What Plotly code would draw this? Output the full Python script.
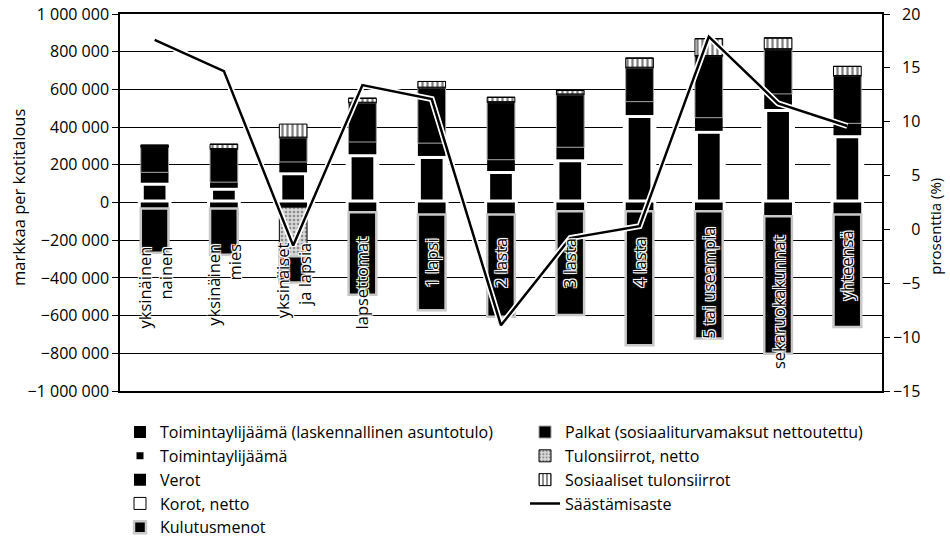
import plotly.graph_objects as go

# ---------------- data (thousand markkaa per household) ----------------
categories = ["yksinäinen<br>nainen", "yksinäinen<br>mies", "yksinäiset<br>ja lapsia",
              "lapsettomat", "1 lapsi", "2 lasta", "3 lasta", "4 lasta",
              "5 tai useampia", "sekaruokakunnat", "yhteensä"]

toimintaylijaama = [105, 78, 160, 256, 247, 167, 229, 464, 380, 496, 357]
asuntotulo = [55, 30, 55, 65, 68, 60, 64, 71, 70, 80, 63]
palkat = [132, 173, 127, 206, 292, 303, 278, 178, 325, 235, 249]
korot = [5, 5, 5, 5, 5, 5, 5, 5, 5, 5, 5]
sosiaaliset = [7, 23, 69, 21, 30, 23, 18, 48, 89, 57, 48]
verot = [-32, -32, -25, -52, -64, -64, -46, -46, -46, -73, -64]
tulonsiirrot = [0, 0, -260, 0, 0, 0, 0, 0, 0, 0, 0]
kulutusmenot = [-235, -245, -140, -438, -507, -542, -551, -711, -676, -729, -596]
saastamisaste = [17.6, 14.7, -1.5, 13.4, 12.1, -8.9, -0.8, 0.3, 17.9, 11.7, 9.6]

left_ticks = [-1000000, -800000, -600000, -400000, -200000, 0, 200000, 400000, 600000, 800000, 1000000]
left_ticktext = ["\u22121 000 000", "\u2212800 000", "\u2212600 000", "\u2212400 000", "\u2212200 000",
                 "0", "200 000", "400 000", "600 000", "800 000", "1 000 000"]
right_ticks = [-15, -10, -5, 0, 5, 10, 15, 20]
right_ticktext = ["\u221215", "\u221210", "\u2007\u22125", "\u2007\u20070", "\u2007\u20075",
                  "\u200710", "\u200715", "\u200720"]

# label placement (style): centre of each rotated category label, in markkaa
label_mid = [-453000, -437000, -411000, -427000, -320000, -320000, -320000, -320000, -427000, -528000, -331000]

FONT = "Open Sans"
idx = list(range(len(categories)))


def k(vals):
    return [v * 1000 for v in vals]


fig = go.Figure()
BW = 0.4

fig.add_trace(go.Bar(x=idx, y=k(toimintaylijaama), name="Toimintaylijäämä", width=BW, legend="legend",
                     marker=dict(color="black", line=dict(color="white", width=6)), legendrank=2))
fig.add_trace(go.Bar(x=idx, y=k(asuntotulo), name="Toimintaylijäämä (laskennallinen asuntotulo)", width=BW,
                     legend="legend", marker=dict(color="black", line=dict(width=0)), legendrank=1))
fig.add_trace(go.Bar(x=idx, y=k(palkat), name="Palkat (sosiaaliturvamaksut nettoutettu)", width=BW,
                     legend="legend2", marker=dict(color="black", line=dict(color="#a0a0a0", width=1)),
                     legendrank=1))
fig.add_trace(go.Bar(x=idx, y=k(korot), name="Korot, netto", width=BW, legend="legend",
                     marker=dict(color="white", line=dict(color="black", width=1)), legendrank=4))
fig.add_trace(go.Bar(x=idx, y=k(sosiaaliset), name="Sosiaaliset tulonsiirrot", width=BW, legend="legend2",
                     marker=dict(color="white", line=dict(color="black", width=1),
                                 pattern=dict(shape="|", fgcolor="black", bgcolor="white", size=5, solidity=0.45)),
                     legendrank=3))
fig.add_trace(go.Bar(x=idx, y=k(verot), name="Verot", width=BW, legend="legend",
                     marker=dict(color="black", line=dict(width=0)), legendrank=3))
fig.add_trace(go.Bar(x=idx, y=k(tulonsiirrot), name="Tulonsiirrot, netto", width=BW, legend="legend2",
                     marker=dict(color="#d0d0d0", line=dict(color="black", width=1),
                                 pattern=dict(shape=".", fgcolor="#404040", bgcolor="#d8d8d8", size=4,
                                              solidity=0.35)),
                     legendrank=2))
fig.add_trace(go.Bar(x=idx, y=k(kulutusmenot), name="Kulutusmenot", width=BW, legend="legend",
                     marker=dict(color="black", line=dict(color="#c8c8c8", width=2.5)), legendrank=5))

fig.add_trace(go.Scatter(x=idx, y=saastamisaste, yaxis="y2", mode="lines", showlegend=False,
                         line=dict(color="white", width=6), hoverinfo="skip"))
fig.add_trace(go.Scatter(x=idx, y=saastamisaste, yaxis="y2", mode="lines", name="Säästämisaste",
                         legend="legend2", line=dict(color="black", width=2.5), legendrank=4))

halo = "-1px -1px 0 #fff, 1px -1px 0 #fff, -1px 1px 0 #fff, 1px 1px 0 #fff, 0 0 3px #fff"
annotations = []
for i, (lab, mid) in enumerate(zip(categories, label_mid)):
    annotations.append(dict(x=i, y=mid, xref="x", yref="y", text=lab, textangle=-90,
                            xanchor="center", yanchor="middle", align="right", showarrow=False,
                            font=dict(family=FONT, size=16.5, color="black", shadow=halo)))
annotations.append(dict(x=-0.1325, y=0.512, xref="paper", yref="paper", text="markkaa per kotitalous",
                        textangle=-90, showarrow=False, xanchor="center", yanchor="middle",
                        font=dict(family=FONT, size=16.5, color="black")))
annotations.append(dict(x=1.0696, y=0.25, xref="paper", yref="y2", text="prosenttia (%)",
                        textangle=-90, showarrow=False, xanchor="center", yanchor="middle",
                        font=dict(family=FONT, size=15, color="black")))

legend_common = dict(orientation="v", xanchor="left", yanchor="top", traceorder="normal",
                     font=dict(family=FONT, size=16, color="black"), bgcolor="rgba(0,0,0,0)",
                     borderwidth=0)

fig.update_layout(
    width=950, height=550,
    margin=dict(l=120, r=68, t=14, b=159, autoexpand=False),
    paper_bgcolor="white", plot_bgcolor="white",
    barmode="relative",
    font=dict(family=FONT, size=16, color="black"),
    showlegend=True,
    legend=dict(x=0.0, y=-0.064, **legend_common),
    legend2=dict(x=0.5315, y=-0.064, **legend_common),
    xaxis=dict(range=[-0.5, 10.5], showticklabels=False, ticks="", showgrid=False, zeroline=False,
               showline=True, linecolor="black", linewidth=1.5, mirror=True),
    yaxis=dict(range=[-1000000, 1000000], tickvals=left_ticks, ticktext=left_ticktext,
               ticks="outside", ticklen=6, tickcolor="black", showgrid=True, gridcolor="black", gridwidth=1,
               zeroline=False, showline=True, linecolor="black", linewidth=1.5, automargin=False,
               ticklabeloverflow="allow",
               tickfont=dict(family=FONT, size=16, color="black")),
    yaxis2=dict(range=[-15, 20], tickvals=right_ticks, ticktext=right_ticktext, overlaying="y", side="right",
                ticks="outside", ticklen=6, tickcolor="black", showgrid=False, zeroline=False,
                showline=True, linecolor="black", linewidth=1.5, automargin=False,
                ticklabeloverflow="allow",
                tickfont=dict(family=FONT, size=16, color="black")),
    annotations=annotations,
)

fig.write_html("out.html", config={"displayModeBar": False},
               post_script="document.body.style.margin='0';document.body.style.padding='0';")
